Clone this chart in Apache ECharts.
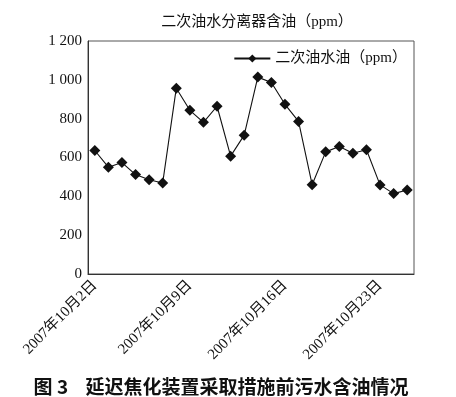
<!DOCTYPE html>
<html>
<head>
    <meta charset="utf-8">
    <title>二次油水分离器含油</title>
    <script src="https://cdn.jsdelivr.net/npm/echarts@6/dist/echarts.min.js"></script>
    <style>
        html, body { margin: 0; padding: 0; background: #fff; }
        #chart { width: 456px; height: 397px; }
    </style>
</head>
<body>
    <div id="chart"></div>
<script>
    // 日期（类目）
    var dates = [
        '2007年10月2日', '2007年10月3日', '2007年10月4日', '2007年10月5日',
        '2007年10月6日', '2007年10月7日', '2007年10月8日', '2007年10月9日',
        '2007年10月10日', '2007年10月11日', '2007年10月12日', '2007年10月13日',
        '2007年10月14日', '2007年10月15日', '2007年10月16日', '2007年10月17日',
        '2007年10月18日', '2007年10月19日', '2007年10月20日', '2007年10月21日',
        '2007年10月22日', '2007年10月23日', '2007年10月24日', '2007年10月25日'
    ];
    // 二次油水分离器含油 ppm
    var oilPpm = [
        636, 550, 574, 512, 485, 469, 957, 843,
        781, 864, 607, 715, 1014, 986, 874, 786,
        460, 629, 657, 622, 640, 459, 414, 433
    ];
    var yMin = 0, yMax = 1200, yStep = 200;

    var serif = '"Liberation Serif", "Noto Sans CJK SC", serif';

    var chart = echarts.init(document.getElementById('chart'));
    chart.setOption({
        backgroundColor: '#fff',
        animation: false,
        title: [{
            text: '二次油水分离器含油（ppm）',
            left: 252, top: 10, textAlign: 'center',
            textStyle: { fontSize: 15, fontWeight: 'normal', color: '#111', fontFamily: serif }
        }, {
            text: '图 3    延迟焦化装置采取措施前污水含油情况',
            left: 216, top: 372, textAlign: 'center',
            textStyle: { fontSize: 19, fontWeight: 'bold', color: '#111', fontFamily: '"Noto Sans CJK SC", sans-serif' }
        }],
        legend: {
            right: 44, top: 46,
            itemWidth: 36, itemHeight: 10,
            textStyle: { fontSize: 15, color: '#111', fontFamily: serif },
            data: ['二次油水油（ppm）']
        },
        grid: {
            left: 88, right: 42, top: 41, bottom: 123,
            show: true, borderColor: '#555', borderWidth: 1
        },
        xAxis: {
            type: 'category',
            data: dates,
            boundaryGap: true,
            axisLine: { lineStyle: { color: '#333', width: 1 } },
            axisTick: { inside: true, interval: 6, length: 5, lineStyle: { color: '#333' } },
            axisLabel: {
                interval: 6, rotate: 45, margin: 9,
                fontSize: 15, color: '#111', fontFamily: serif
            },
            splitLine: { show: false }
        },
        yAxis: {
            type: 'value',
            min: yMin, max: yMax, interval: yStep,
            axisLine: { show: true, lineStyle: { color: '#333', width: 1 } },
            axisTick: { show: false },
            splitLine: { show: false },
            axisLabel: {
                margin: 6, fontSize: 15, color: '#111', fontFamily: serif,
                formatter: function (v) {
                    return v >= 1000 ? Math.floor(v / 1000) + ' ' + String(v % 1000).padStart(3, '0') : String(v);
                }
            }
        },
        series: [{
            name: '二次油水油（ppm）',
            type: 'line',
            data: oilPpm,
            symbol: 'diamond',
            symbolSize: 11,
            showAllSymbol: true,
            lineStyle: { color: '#111', width: 1.1 },
            itemStyle: { color: '#111' }
        }]
    });
</script>
</body>
</html>
